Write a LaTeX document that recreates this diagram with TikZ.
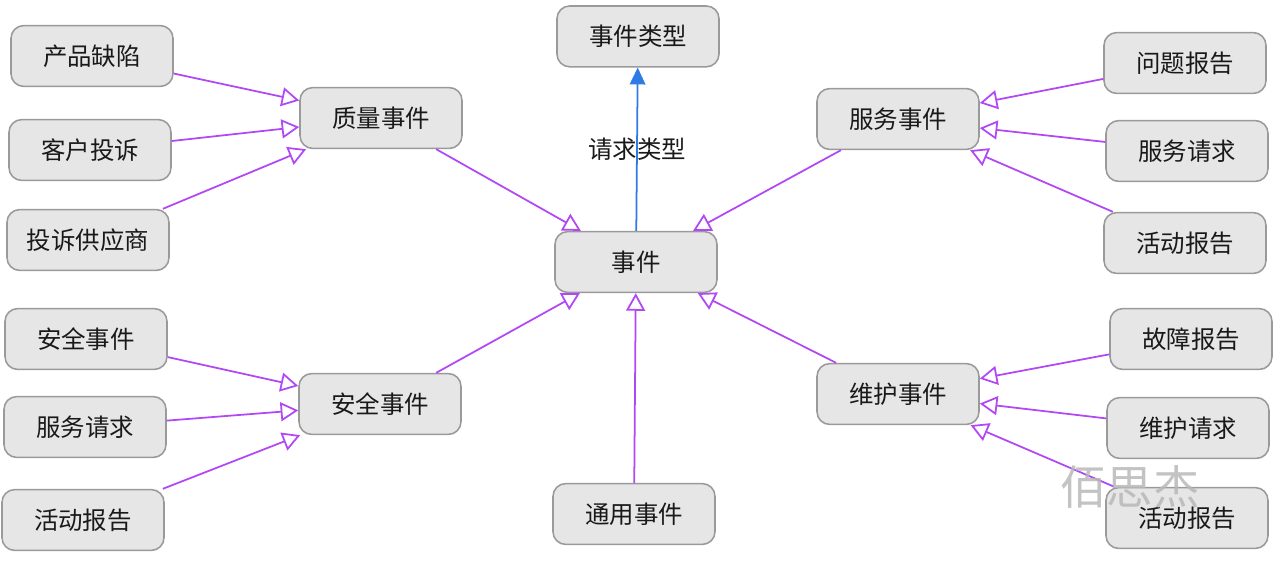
\documentclass[tikz,border=0pt]{standalone}
\usepackage{fontspec}
\newfontfamily\cjk{Noto Sans CJK SC}
\usetikzlibrary{arrows.meta}
\definecolor{boxfill}{HTML}{E6E6E6}
\definecolor{boxline}{HTML}{9A9A9A}
\definecolor{genline}{HTML}{B147F5}
\definecolor{reqline}{HTML}{2F7BE6}
\begin{document}
\begin{tikzpicture}[
  box/.style={draw=boxline, fill=boxfill, line width=1.1pt, rounded corners=9pt,
    minimum width=4.05cm, minimum height=1.52cm, inner sep=2pt,
    font=\cjk\fontsize{17.4}{20}\selectfont, text=black!90},
  gen/.style={draw=genline, line width=1.25pt,
    -{Triangle[open, length=12.5pt, width=13.5pt]}},
  req/.style={draw=reqline, line width=1.25pt,
    -{Triangle[length=12pt, width=11pt]}}
]
\useasboundingbox (0,0) rectangle (32,-14.2);
% centre
\node[box] (ev) at (15.9,-6.55) {事件};
\node[box] (evtype) at (15.95,-0.91) {事件类型};
\node[box] (gen) at (15.85,-12.85) {通用事件};
% quality
\node[box] (qual) at (9.525,-2.95) {质量事件};
\node[box] (defect) at (2.3,-1.4) {产品缺陷};
\node[box] (compl) at (2.25,-3.75) {客户投诉};
\node[box] (supcompl) at (2.2,-6.0) {投诉供应商};
% service
\node[box] (serv) at (22.45,-2.975) {服务事件};
\node[box] (issue) at (29.625,-1.575) {问题报告};
\node[box] (servreq) at (29.675,-3.775) {服务请求};
\node[box] (actrep1) at (29.625,-6.075) {活动报告};
% safety
\node[box] (safe) at (9.5,-10.1) {安全事件};
\node[box] (safeev) at (2.15,-8.475) {安全事件};
\node[box] (servreq2) at (2.125,-10.675) {服务请求};
\node[box] (actrep2) at (2.075,-13.0) {活动报告};
% maintenance
\node[box] (maint) at (22.45,-9.85) {维护事件};
\node[box] (fault) at (29.775,-8.475) {故障报告};
\node[box] (maintreq) at (29.7,-10.7) {维护请求};
\node[box] (actrep3) at (29.675,-12.95) {活动报告};

\draw[req] (ev) -- node[font=\cjk\fontsize{17.4}{20}\selectfont, text=black!90] {请求类型} (evtype);
\draw[gen] (qual) -- (ev);
\draw[gen] (serv) -- (ev);
\draw[gen] (safe) -- (ev);
\draw[gen] (maint) -- (ev);
\draw[gen] (gen) -- (ev);
\draw[gen] (defect) -- (qual);
\draw[gen] (compl) -- (qual);
\draw[gen] (supcompl) -- (qual);
\draw[gen] (issue) -- (serv);
\draw[gen] (servreq) -- (serv);
\draw[gen] (actrep1) -- (serv);
\draw[gen] (safeev) -- (safe);
\draw[gen] (servreq2) -- (safe);
\draw[gen] (actrep2) -- (safe);
\draw[gen] (fault) -- (maint);
\draw[gen] (maintreq) -- (maint);
\draw[gen] (actrep3) -- (maint);

% watermark
\node[font=\cjk\fontsize{33}{36}\selectfont, text=black!28, opacity=0.85] (wm) at (28.25,-12.175) {佰思杰};
\end{tikzpicture}
\end{document}
